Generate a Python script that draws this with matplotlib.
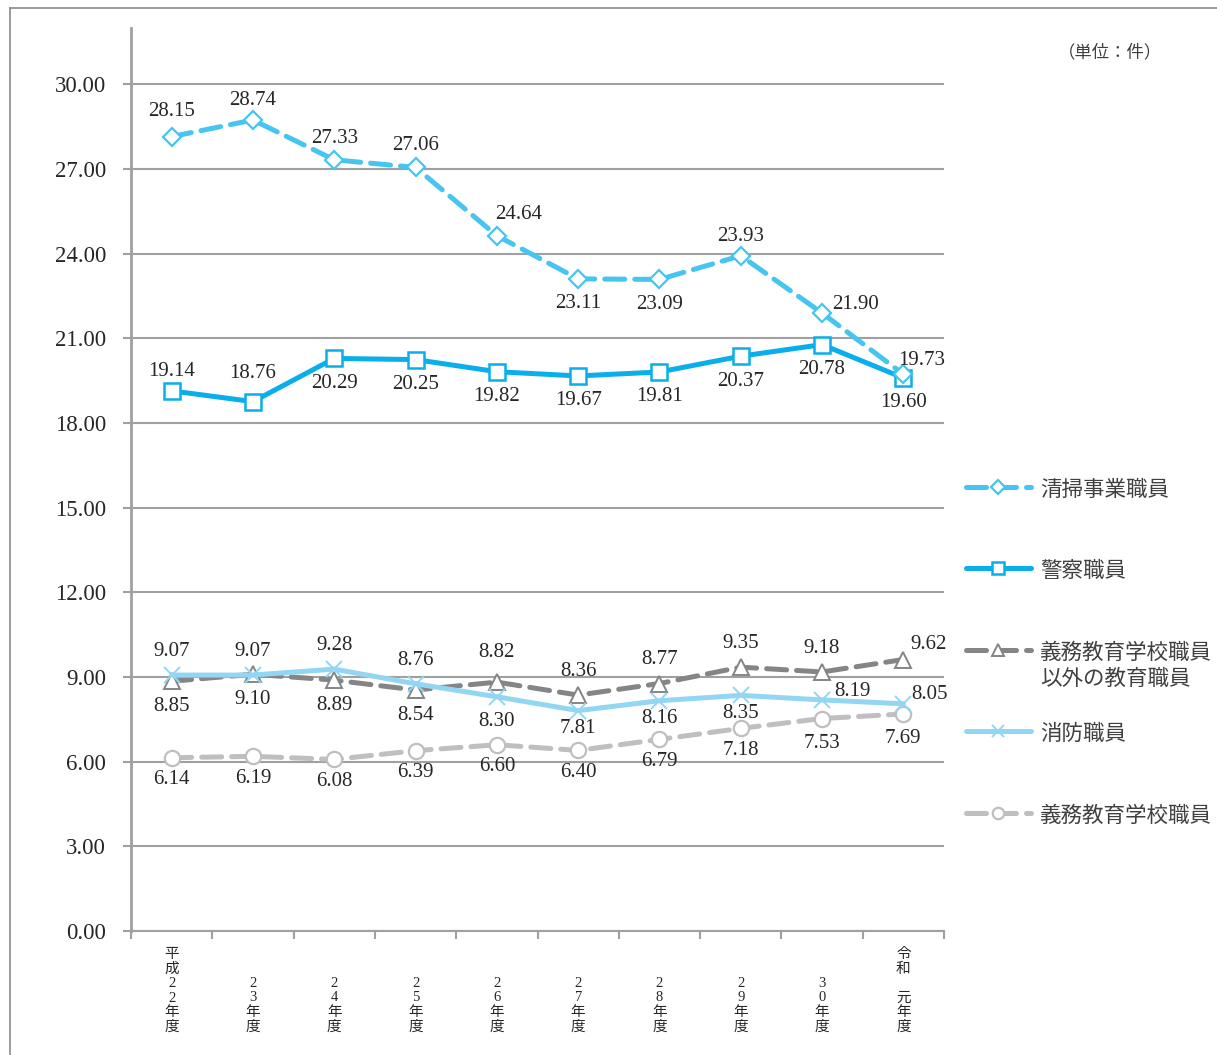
import matplotlib
matplotlib.use("Agg")
import matplotlib.pyplot as plt
from matplotlib.lines import Line2D

plt.rcParams['font.family'] = ['Liberation Serif', 'Noto Sans CJK JP']

# fiscal years (vertical labels, padded to 6 rows)
years = [
    "平\n成\n2\n2\n年\n度",
    "\n\n2\n3\n年\n度",
    "\n\n2\n4\n年\n度",
    "\n\n2\n5\n年\n度",
    "\n\n2\n6\n年\n度",
    "\n\n2\n7\n年\n度",
    "\n\n2\n8\n年\n度",
    "\n\n2\n9\n年\n度",
    "\n\n3\n0\n年\n度",
    "令\n和\n\n元\n年\n度",
]

cleaning = [28.15, 28.74, 27.33, 27.06, 24.64, 23.11, 23.09, 23.93, 21.90, 19.73]
police = [19.14, 18.76, 20.29, 20.25, 19.82, 19.67, 19.81, 20.37, 20.78, 19.60]
other_edu = [8.85, 9.10, 8.89, 8.54, 8.82, 8.36, 8.77, 9.35, 9.18, 9.62]
fire = [9.07, 9.07, 9.28, 8.76, 8.30, 7.81, 8.16, 8.35, 8.19, 8.05]
compulsory = [6.14, 6.19, 6.08, 6.39, 6.60, 6.40, 6.79, 7.18, 7.53, 7.69]

names = ["清掃事業職員", "警察職員", "義務教育学校職員\n以外の教育職員", "消防職員", "義務教育学校職員"]
yticks = [0, 3, 6, 9, 12, 15, 18, 21, 24, 27, 30]

# label offsets in points
A = (0, 17)
B = (0, -18)
offsets = {
    "cleaning": [(0, 18), (0, 14), (0, 15), (0, 16), (16, 15), B, B, (0, 14), (24, 6), (13, 10)],
    "police": [(0, 14), (0, 20), B, B, B, B, B, B, B, B],
    "other_edu": [B, B, B, B, (0, 21), A, A, A, A, (18, 11)],
    "fire": [A, A, A, A, B, (0, -13), (0, -13), (0, -13), (22, 6), (19, 7)],
    "compulsory": [(0, -16), (0, -16), (0, -16), (0, -16), (0, -16), (0, -16), (0, -16), (0, -16), B, B],
}

W, H = 1217, 1055
fig = plt.figure(figsize=(W / 100, H / 100), dpi=100)
ax = fig.add_axes([131 / W, 1 - 931 / H, (944 - 131) / W, (931 - 28) / H])

x = list(range(len(years)))
grid_c = "#a0a0a0"

styles = [
    ("compulsory", compulsory, names[4], dict(color="#bfbfc1", ls=(0, (4, 2)), marker="o", ms=11, mew=1.6)),
    ("other_edu", other_edu, names[2], dict(color="#858587", ls=(0, (4, 2)), marker="^", ms=12, mew=1.4)),
    ("fire", fire, names[3], dict(color="#92d6f4", ls="-", marker="x", ms=11, mew=1.4)),
    ("police", police, names[1], dict(color="#0aaeea", ls="-", marker="s", ms=12, mew=1.8)),
    ("cleaning", cleaning, names[0], dict(color="#45c5f0", ls=(0, (4, 2)), marker="D", ms=9, mew=1.6)),
]

handles = {}
for key, vals, name, st in styles:
    ln, = ax.plot(x, vals, color=st["color"], ls=st["ls"], lw=3.6, marker=st["marker"],
                  ms=st["ms"], mfc="white", mec=st["color"], mew=st["mew"],
                  dash_capstyle="round", solid_capstyle="round", label=name, zorder=3)
    handles[key] = ln
    for i, v in enumerate(vals):
        ax.annotate(f"{v:.2f}", (i, v), xytext=offsets[key][i], textcoords="offset points",
                    ha="center", va="center", fontsize=15, color="#262626", zorder=4)

ax.set_xlim(-0.5, len(years) - 0.5)
ax.set_ylim(0, 32)
ax.set_yticks(yticks)
ax.set_yticklabels([f"{t:.2f}" for t in yticks], fontsize=16.5, color="#262626")
ax.yaxis.grid(True, color=grid_c, lw=1.5)
ax.set_axisbelow(True)
ax.tick_params(axis="y", length=6, width=1.5, color=grid_c, pad=12)

ax.set_xticks(x)
ax.set_xticklabels(years, fontsize=10.5, color="#262626", linespacing=1.16)
ax.set_xticks([i - 0.5 for i in range(len(years) + 1)], minor=True)
ax.tick_params(axis="x", which="major", length=0, pad=12)
ax.tick_params(axis="x", which="minor", length=6, width=1.5, color=grid_c)

for s in ["top", "right"]:
    ax.spines[s].set_visible(False)
ax.spines["left"].set_color(grid_c)
ax.spines["left"].set_linewidth(2)
ax.spines["bottom"].set_color(grid_c)
ax.spines["bottom"].set_linewidth(1.5)

# legend, one entry per box
leg_order = ["cleaning", "police", "other_edu", "fire", "compulsory"]
leg_y = [490, 571, 666, 734, 816]
for key, yy in zip(leg_order, leg_y):
    lg = fig.legend(handles=[handles[key]], loc="center left", bbox_to_anchor=(966 / W, 1 - yy / H),
                    frameon=False, borderpad=0, borderaxespad=0, handlelength=3.0, handletextpad=0.45,
                    markerscale=0.75, prop={"family": "Noto Sans CJK JP", "size": 15.5})
    for t in lg.get_texts():
        t.set_color("#404040")
        t.set_linespacing(1.2)
    # keep the handle next to the first text line
    box = getattr(lg, "_legend_handle_box", None)
    if box is not None:
        for col in box.get_children():
            for row in col.get_children():
                row.align = "top"

fig.text(1162 / W, 1 - 52 / H, "（単位：件）", ha="right", va="center", fontsize=12.5,
         color="#404040", family="Noto Sans CJK JP")

# outer frame
fig.add_artist(Line2D([10 / W, 10 / W], [0, 1 - 8 / H], color="#8a8a8a", lw=1.2))
fig.add_artist(Line2D([10 / W, 1], [1 - 8 / H, 1 - 8 / H], color="#8a8a8a", lw=1.2))

fig.savefig("out.png", dpi=100)
